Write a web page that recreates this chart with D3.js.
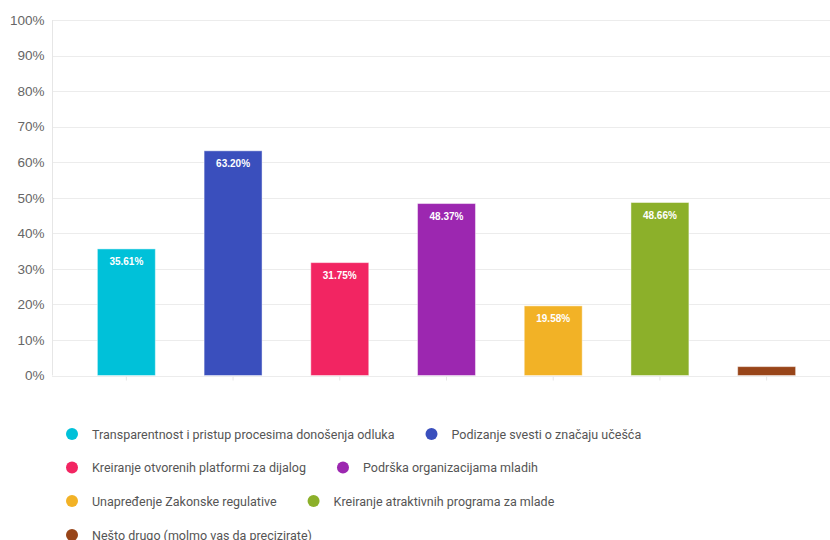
<!DOCTYPE html>
<html><head><meta charset="utf-8">
<script src="https://cdn.jsdelivr.net/npm/d3@7"></script>
<style>body{margin:0;background:#fff}svg{display:block}</style>
</head><body>
<svg id="c" width="830" height="540"></svg>
<script>
const categories = [
  "Transparentnost i pristup procesima donošenja odluka",
  "Podizanje svesti o značaju učešća",
  "Kreiranje otvorenih platformi za dijalog",
  "Podrška organizacijama mladih",
  "Unapređenje Zakonske regulative",
  "Kreiranje atraktivnih programa za mlade",
  "Nešto drugo (molmo vas da precizirate)"
];
const values = [35.61, 63.20, 31.75, 48.37, 19.58, 48.66, 2.5];
const showLabel = [true, true, true, true, true, true, false];
const colors = ["#00c1d9", "#3a4fbd", "#f22562", "#9c27b0", "#f2b226", "#8cb02a", "#984519"];
const yTicks = [0, 10, 20, 30, 40, 50, 60, 70, 80, 90, 100];

const svg = d3.select("#c");
const x = d3.scaleBand().domain(categories).range([73, 820]).paddingInner(0.457).paddingOuter(0.2285);
const y = d3.scaleLinear().domain([0, 100]).range([375.5, 20]);

// grid
svg.append("g").selectAll("line").data(yTicks).join("line")
  .attr("x1", 52).attr("x2", 830)
  .attr("y1", d => Math.round(y(d)) + 0.5).attr("y2", d => Math.round(y(d)) + 0.5)
  .attr("stroke", "#ececec").attr("stroke-width", 1);

// y axis
const yAxis = svg.append("g").attr("transform", "translate(52.5,0)")
  .call(d3.axisLeft(y).tickValues(yTicks).tickFormat(d => d + "%").tickSize(0).tickPadding(8));
yAxis.select(".domain").attr("stroke", "#e6e6e6").attr("d", `M0,${y(100)}V${y(0)}`);
yAxis.selectAll("text").attr("fill", "#666").attr("font-family", "Liberation Sans, Arial, sans-serif").attr("font-size", 13.5);

// x axis ticks
const xAxis = svg.append("g").attr("transform", `translate(0,${Math.round(y(0)) + 0.5})`)
  .call(d3.axisBottom(x).tickSize(4).tickFormat(""));
xAxis.select(".domain").remove();
xAxis.selectAll("line").attr("stroke", "#e6e6e6");

// bars
svg.append("g").selectAll("rect").data(categories).join("rect")
  .attr("x", d => x(d)).attr("width", x.bandwidth())
  .attr("y", (d, i) => y(values[i])).attr("height", (d, i) => y(0) - y(values[i]))
  .attr("fill", (d, i) => colors[i])
  .attr("stroke", "rgba(255,255,255,0.45)").attr("stroke-width", 1);

// labels
svg.append("g").selectAll("text").data(categories.filter((d, i) => showLabel[i])).join("text")
  .attr("x", d => x(d) + x.bandwidth() / 2)
  .attr("y", d => y(values[categories.indexOf(d)]) + 16)
  .attr("text-anchor", "middle").attr("fill", "#fff")
  .attr("font-family", "Liberation Sans, Arial, sans-serif").attr("font-size", 10).attr("font-weight", "bold")
  .text(d => values[categories.indexOf(d)].toFixed(2) + "%");

// legend
const rows = [[0, 1], [2, 3], [4, 5], [6]];
const rowY = [434, 467.5, 501, 535];
const leg = svg.append("g");
rows.forEach((r, ri) => {
  let cx = 66;
  r.forEach(i => {
    leg.append("circle").attr("cx", cx + 6).attr("cy", rowY[ri]).attr("r", 6).attr("fill", colors[i]);
    const t = leg.append("text").attr("x", cx + 26).attr("y", rowY[ri] + 4.5)
      .attr("fill", "#555").attr("font-family", "Roboto, sans-serif").attr("font-size", 12.5)
      .text(categories[i]);
    cx = cx + 26 + t.node().getComputedTextLength() + 31;
  });
});
</script>
</body></html>
